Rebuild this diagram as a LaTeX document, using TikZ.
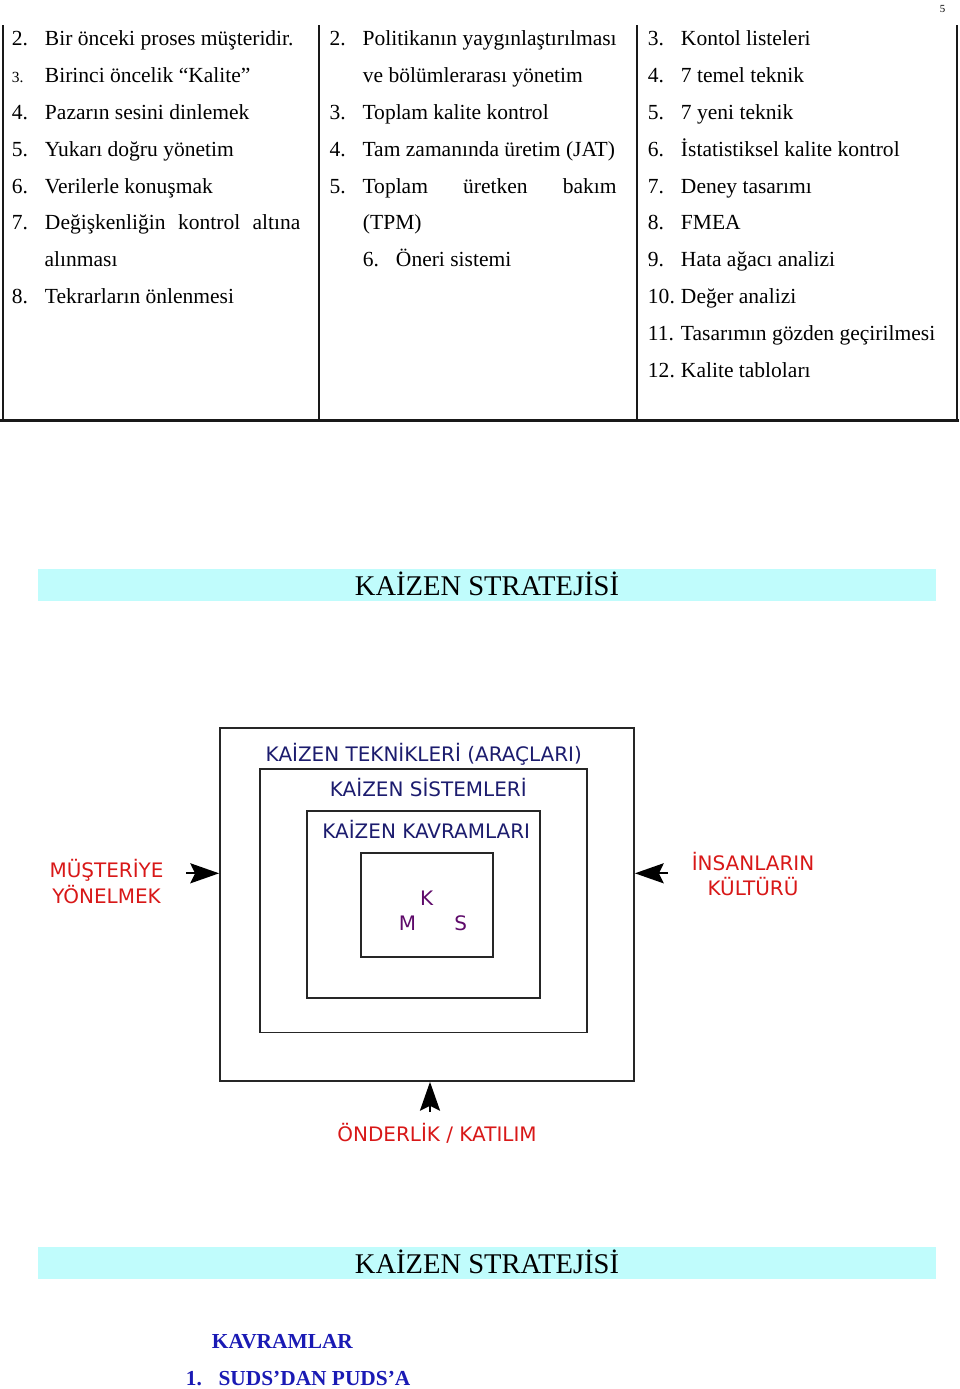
\documentclass[tikz,border=0pt]{standalone}
\usepackage{fontspec}
\setmainfont{Liberation Serif}
\newfontfamily\dejavu{DejaVu Sans}
\usetikzlibrary{arrows.meta}
\definecolor{bandcyan}{HTML}{C0FCFC}
\definecolor{kznavy}{HTML}{1C1C6E}
\definecolor{kzred}{HTML}{D81818}
\definecolor{kzpurple}{HTML}{5E0A6A}
\definecolor{kzblue}{HTML}{1A1AB4}
\newcommand\tabfont{\fontsize{15.3}{18}\selectfont}
\newcommand\num[1]{\makebox[0.825cm][l]{#1}}
\def\cell{\node[anchor=base west,inner sep=0pt,font=\tabfont]}
\def\kzlabel{\node[anchor=base,inner sep=0pt,font=\dejavu\fontsize{14.2}{18.4}\selectfont]}
\tikzset{
  kzbox/.style={draw=black!85,line width=1.2pt,inner sep=0pt},
  band/.style={fill=bandcyan,inner sep=0pt,minimum width=22.44cm,minimum height=0.7925cm,
    text height=0.665cm,text depth=0.1275cm,font=\fontsize{20.3}{24}\selectfont},
  bigarrow/.style={line width=1.6pt,-{Stealth[length=0.72cm,width=0.5cm,inset=0.12cm]}},
  rule/.style={draw=black!90,line width=1.4pt}
}

\begin{document}
\begin{tikzpicture}[x=0.025cm,y=-0.025cm]
\useasboundingbox (0,0) rectangle (960,1389);
% page number and table
\node[anchor=base,inner sep=0pt,font=\fontsize{7.7}{9}\selectfont] (page) at (942.5,12) {5};
\draw[rule] (2.7,25) -- (2.7,420.5);
\draw[rule] (319.3,25) -- (319.3,420.5);
\draw[rule] (637.3,25) -- (637.3,420.5);
\draw[rule] (957.3,25) -- (957.3,420.5);
\draw[rule,line width=2.2pt] (0,420.5) -- (959,420.5);

\cell (a2) at (11.7,45.7) {\num{2.}Bir önceki proses müşteridir.};
\cell (a3) at (11.7,82.55) {\num{\fontsize{11}{13}\selectfont 3.}Birinci öncelik “Kalite”};
\cell (a4) at (11.7,119.4) {\num{4.}Pazarın sesini dinlemek};
\cell (a5) at (11.7,156.25) {\num{5.}Yukarı doğru yönetim};
\cell (a6) at (11.7,193.1) {\num{6.}Verilerle konuşmak};
\cell (a7) at (11.7,229.95) {\num{7.}\makebox[6.385cm][s]{Değişkenliğin kontrol altına}};
\cell (a7b) at (44.3,266.8) {alınması};
\cell (a8) at (11.7,303.65) {\num{8.}Tekrarların önlenmesi};

\cell (b2) at (329.3,45.7) {\num{2.}\makebox[6.35cm][s]{Politikanın yaygınlaştırılması}};
\cell (b2b) at (362.7,82.55) {ve bölümlerarası yönetim};
\cell (b3) at (329.3,119.4) {\num{3.}Toplam kalite kontrol};
\cell (b4) at (329.3,156.25) {\num{4.}Tam zamanında üretim (JAT)};
\cell (b5) at (329.3,193.1) {\num{5.}\makebox[6.35cm][s]{Toplam üretken bakım}};
\cell (b5b) at (362.7,229.95) {(TPM)};
\cell (b6) at (362.7,266.8) {\num{6.}Öneri sistemi};

\cell (c3) at (647.7,45.7) {\num{3.}Kontol listeleri};
\cell (c4) at (647.7,82.55) {\num{4.}7 temel teknik};
\cell (c5) at (647.7,119.4) {\num{5.}7 yeni teknik};
\cell (c6) at (647.7,156.25) {\num{6.}İstatistiksel kalite kontrol};
\cell (c7) at (647.7,193.1) {\num{7.}Deney tasarımı};
\cell (c8) at (647.7,229.95) {\num{8.}FMEA};
\cell (c9) at (647.7,266.8) {\num{9.}Hata ağacı analizi};
\cell (c10) at (647.7,303.65) {\num{10.}Değer analizi};
\cell (c11) at (647.7,340.5) {\num{11.}Tasarımın gözden geçirilmesi};
\cell (c12) at (647.7,377.35) {\num{12.}Kalite tabloları};

% kaizen diagram
\node[band] (strat) at (487,584.85) {KAİZEN STRATEJİSİ};

\node[kzbox,minimum width=10.35cm,minimum height=8.83cm] (tech) at (427,904.35) {};
\node[kzbox,minimum width=8.18cm,minimum height=6.575cm] (sist) at (423.65,900.8) {};
\node[kzbox,minimum width=5.83cm,minimum height=4.66cm] (kavr) at (423.35,904.5) {};
\node[kzbox,minimum width=3.315cm,minimum height=2.585cm] (core) at (427,905) {};

\kzlabel[text=kznavy] (techl) at (423.8,761) {KAİZEN TEKNİKLERİ (ARAÇLARI)};
\kzlabel[text=kznavy] (sistl) at (428.3,796.7) {KAİZEN SİSTEMLERİ};
\kzlabel[text=kznavy] (kavrl) at (426.2,838.3) {KAİZEN KAVRAMLARI};
\kzlabel[text=kzpurple] (k) at (426.7,905.7) {K};
\kzlabel[text=kzpurple] (m) at (407.5,930.7) {M};
\kzlabel[text=kzpurple] (s) at (460.8,930.7) {S};

\kzlabel[text=kzred,align=center] (musteri) at (106.5,903.3) {MÜŞTERİYE\\YÖNELMEK};
\kzlabel[text=kzred,align=center,font=\dejavu\fontsize{14.2}{17.7}\selectfont] (insan) at (753,895) {İNSANLARIN\\KÜLTÜRÜ};
\kzlabel[text=kzred] (onder) at (437,1141) {ÖNDERLİK / KATILIM};

\coordinate (lt) at (186,873.3);
\coordinate (rt) at (668,873.3);
\coordinate (bt) at (430,1112);
\draw[bigarrow] (lt) -- (lt -| tech.west);
\draw[bigarrow] (rt) -- (rt -| tech.east);
\draw[bigarrow] (bt) -- (bt |- tech.south);

\node[band] (strat2) at (487,1263) {KAİZEN STRATEJİSİ};
\node[anchor=base west,inner sep=0pt,text=kzblue,font=\bfseries\fontsize{15.2}{18}\selectfont] (kavramlar) at (211.7,1348.3) {KAVRAMLAR};
\node[anchor=base west,inner sep=0pt,text=kzblue,font=\bfseries\fontsize{15.2}{18}\selectfont] (suds) at (185.7,1385) {\makebox[0.815cm][l]{1.}SUDS’DAN PUDS’A};
\end{tikzpicture}
\end{document}
